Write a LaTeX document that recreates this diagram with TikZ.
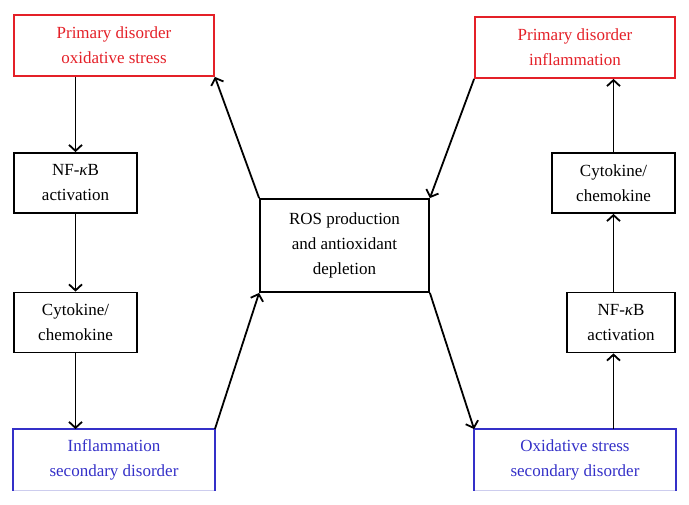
\documentclass[tikz,border=0pt]{standalone}
\usepackage{fontspec}
\setmainfont{Liberation Serif}
\usetikzlibrary{arrows.meta}
\definecolor{boxred}{RGB}{228,32,40}
\definecolor{boxblue}{RGB}{52,48,200}
\definecolor{faintblue}{RGB}{205,205,238}
\begin{document}
\begin{tikzpicture}[x=1pt,y=-1pt,
  box/.style={draw, rectangle, inner sep=0pt, align=center, line width=1.8pt,
    font=\fontsize{17}{25}\selectfont},
  redbox/.style={box, draw=boxred, text=boxred, minimum width=200pt, minimum height=61pt},
  bluebox/.style={box, draw=none, text=boxblue, minimum width=200pt, minimum height=60pt},
  smallbox/.style={box, minimum height=60pt},
  arr/.style={-{Straight Barb[length=6pt,width=13pt]}, line width=1.8pt}]
\useasboundingbox (0,0) rectangle (689,505);
% left column
\node[redbox] (pl) at (114,45.5) {Primary disorder\\oxidative stress};
\node[smallbox, minimum width=123pt] (nl) at (75.5,183) {NF-{\itshape κ}B\\activation};
\node[smallbox, minimum width=123pt] (cl) at (75.5,322.5) {Cytokine/\\chemokine};
\node[bluebox] (sl) at (114,460) {Inflammation\\secondary disorder};
% centre
\node[box, minimum width=169pt, minimum height=93pt] (ros) at (344.5,245.5) {ROS production\\and antioxidant\\depletion};
% right column
\node[redbox] (pr) at (575,47.5) {Primary disorder\\inflammation};
\node[smallbox, minimum width=123pt] (cr) at (613.5,183) {Cytokine/\\chemokine};
\node[smallbox, minimum width=108pt] (nr) at (621,322.5) {NF-{\itshape κ}B\\activation};
\node[bluebox] (sr) at (575,460) {Oxidative stress\\secondary disorder};
% open-bottom blue frames
\draw[faintblue, line width=1pt] (sl.south west) -- (sl.south east);
\draw[faintblue, line width=1pt] (sr.south west) -- (sr.south east);
\draw[boxblue, line width=1.8pt] (sl.south west) -- (sl.north west) -- (sl.north east) -- (sl.south east);
\draw[boxblue, line width=1.8pt] (sr.south west) -- (sr.north west) -- (sr.north east) -- (sr.south east);
% left arrows
\draw[arr] (nl.north |- pl.south) -- (nl.north);
\draw[arr] (nl.south) -- (cl.north);
\draw[arr] (cl.south) -- (cl.south |- sl.north);
% right arrows
\draw[arr] (cr.south |- sr.north) -- (cr.south |- nr.south);
\draw[arr] (cr.south |- nr.north) -- (cr.south);
\draw[arr] (cr.north) -- (cr.north |- pr.south);
% diagonals
\draw[arr] (ros.north west) -- (pl.south east);
\draw[arr] (pr.south west) -- (ros.north east);
\draw[arr] (sl.north east) -- (ros.south west);
\draw[arr] (ros.south east) -- (sr.north west);
\end{tikzpicture}
\end{document}
